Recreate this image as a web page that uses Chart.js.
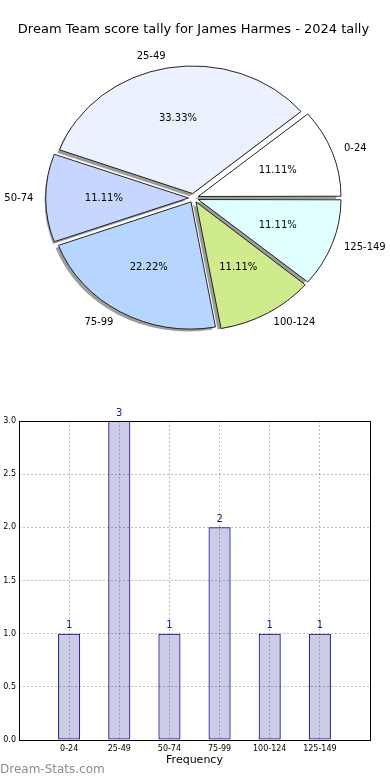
<!DOCTYPE html>
<html>
<head>
<meta charset="utf-8">
<script src="https://cdn.jsdelivr.net/npm/chart.js@4.4.1/dist/chart.umd.min.js"></script>
<style>
  body { margin: 0; background: #fff; width: 390px; height: 780px; position: relative; overflow: hidden; }
  #pieChart { position: absolute; left: 0; top: 0; }
  #barChart { position: absolute; left: 0; top: 380px; }
  #mark { position: absolute; left: 0; top: 762px; font: 12px "DejaVu Sans"; color: #8c8c8c; }
</style>
</head>
<body>
<canvas id="pieChart" width="390" height="380"></canvas>
<canvas id="barChart" width="390" height="400"></canvas>
<div id="mark">Dream-Stats.com</div>
<script>
const titleText = 'Dream Team score tally for James Harmes - 2024 tally';
const categories = ['0-24', '25-49', '50-74', '75-99', '100-124', '125-149'];
const counts = [1, 3, 1, 2, 1, 1];
const sliceColors = ['#ffffff', '#ebf1ff', '#c6d6ff', '#b6d6ff', '#d0eb8c', '#e0ffff'];
const yTickValues = [0, 0.5, 1, 1.5, 2, 2.5, 3];

const FONT = 'DejaVu Sans';
const pieRadius = 141;
const squash = 127 / pieRadius; // pie is drawn as an ellipse, like the original

// matplotlib goes counter-clockwise from 3 o'clock, chart.js clockwise -> reverse
const pieLabels = categories.slice().reverse();
const pieValues = counts.slice().reverse();
const pieColors = sliceColors.slice().reverse();
const total = counts.reduce((a, b) => a + b, 0);

const pieShape = {
    id: 'pieShape',
    beforeDatasetsDraw(chart) {
        const ctx = chart.ctx;
        const arcs = chart.getDatasetMeta(0).data;
        const cx = arcs[0].x, cy = arcs[0].y;
        ctx.save();
        ctx.translate(cx, cy);
        ctx.scale(1, squash);
        ctx.translate(-cx, -cy);
        // shadows, shifted down-left
        arcs.forEach(a => {
            const mid = (a.startAngle + a.endAngle) / 2;
            const off = (a.options.offset || 0) / 4;
            const x = a.x + Math.cos(mid) * off - 2.9;
            const y = a.y + Math.sin(mid) * off + 2.9;
            ctx.beginPath();
            ctx.moveTo(x, y);
            ctx.arc(x, y, a.outerRadius, a.startAngle, a.endAngle);
            ctx.closePath();
            ctx.fillStyle = 'rgba(60,60,60,0.5)';
            ctx.fill();
        });
    },
    afterDatasetsDraw(chart) {
        const ctx = chart.ctx;
        ctx.restore();
        const arcs = chart.getDatasetMeta(0).data;
        ctx.save();
        ctx.font = '10px "' + FONT + '"';
        ctx.fillStyle = '#000';
        ctx.textBaseline = 'middle';
        arcs.forEach((a, i) => {
            const mid = (a.startAngle + a.endAngle) / 2;
            const off = (a.options.offset || 0) / 4;
            const r = a.outerRadius;
            const c = Math.cos(mid), s = Math.sin(mid);
            // percentage inside
            ctx.textAlign = 'center';
            const pct = (pieValues[i] / total * 100).toFixed(2) + '%';
            ctx.fillText(pct, a.x + (off + 0.6 * r) * c, a.y + (off + 0.6 * r) * s * squash);
            // category outside
            ctx.textAlign = c > 0 ? 'left' : 'right';
            ctx.fillText(pieLabels[i], a.x + (off + 1.1 * r) * c, a.y + (off + 1.1 * r) * s * squash);
        });
        ctx.restore();
    }
};

new Chart(document.getElementById('pieChart'), {
    type: 'pie',
    data: {
        labels: pieLabels,
        datasets: [{
            data: pieValues,
            backgroundColor: pieColors,
            borderColor: '#1a1a1a',
            borderWidth: 1,
            offset: 20,
            rotation: 90,
            radius: pieRadius,
            clip: false
        }]
    },
    options: {
        responsive: false,
        animation: false,
        layout: { padding: { top: 0, bottom: 31.6, left: 0, right: 3 } },
        plugins: {
            legend: { display: false },
            tooltip: { enabled: false },
            title: {
                display: true,
                text: titleText,
                color: '#000',
                font: { family: FONT, size: 13, weight: 'normal' },
                padding: { top: 22, bottom: 10 }
            }
        }
    },
    plugins: [pieShape]
});

// bar chart: pad with empty categories so the x range runs from -1 to 6
const barLabels = [''].concat(categories, ['']);
const barValues = [null].concat(counts, [null]);

const frame = {
    id: 'frame',
    afterDatasetsDraw(chart) {
        const { ctx, chartArea: a } = chart;
        ctx.save();
        ctx.strokeStyle = '#000';
        ctx.lineWidth = 1;
        ctx.strokeRect(Math.round(a.left) + 0.5, Math.round(a.top) + 0.5,
            Math.round(a.right - a.left), Math.round(a.bottom - a.top));
        ctx.restore();
    }
};

const valueLabels = {
    id: 'valueLabels',
    afterDraw(chart) {
        const ctx = chart.ctx;
        ctx.save();
        ctx.font = '10px "' + FONT + '"';
        ctx.fillStyle = '#1a1a8c';
        ctx.textAlign = 'center';
        ctx.textBaseline = 'bottom';
        chart.getDatasetMeta(0).data.forEach((bar, i) => {
            if (barValues[i] == null) return;
            ctx.fillText(String(barValues[i]), bar.x, bar.y - 3);
        });
        ctx.restore();
    }
};

new Chart(document.getElementById('barChart'), {
    type: 'bar',
    data: {
        labels: barLabels,
        datasets: [{
            data: barValues,
            backgroundColor: 'rgba(0,0,128,0.2)',
            borderColor: '#00008b',
            borderWidth: 1,
            borderSkipped: false,
            categoryPercentage: 1,
            barPercentage: 0.44
        }]
    },
    options: {
        responsive: false,
        animation: false,
        layout: { padding: { top: 41, right: 20, left: 0, bottom: 0 } },
        plugins: { legend: { display: false }, tooltip: { enabled: false } },
        scales: {
            x: {
                offset: false,
                grid: { color: 'rgba(0,0,0,0.25)', drawTicks: false, offset: false },
                border: { display: false, dash: [2, 2] },
                ticks: { padding: 4, color: '#000', autoSkip: false, maxRotation: 0, font: { family: FONT, size: 8 } },
                title: { display: true, text: 'Frequency', color: '#000', font: { family: FONT, size: 11 }, padding: { top: 0, bottom: 13 } },
                afterFit(scale) { scale.height = 40; }
            },
            y: {
                min: 0,
                max: 3,
                grid: { color: 'rgba(0,0,0,0.25)', drawTicks: false },
                border: { display: false, dash: [2, 2] },
                ticks: { padding: 3, color: '#000', font: { family: FONT, size: 8 }, callback: v => Number(v).toFixed(1) },
                afterBuildTicks(scale) { scale.ticks = yTickValues.map(v => ({ value: v })); },
                afterFit(scale) { scale.width = 19; }
            }
        }
    },
    plugins: [frame, valueLabels]
});
</script>
</body>
</html>
